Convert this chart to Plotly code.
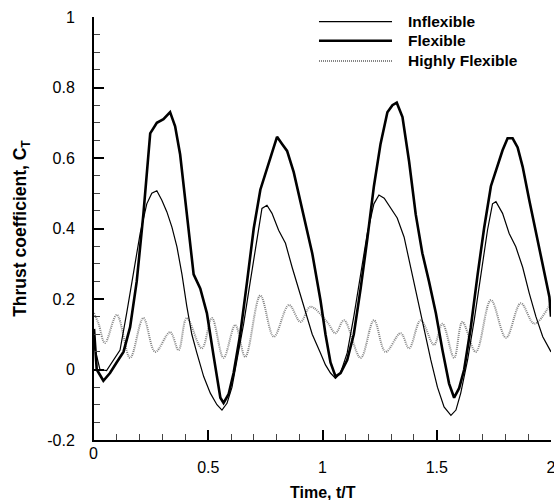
import plotly.graph_objects as go

# ---- data ----
t_flex = [0, 0.012, 0.041, 0.070, 0.099, 0.129, 0.158, 0.187, 0.216, 0.246, 0.275, 0.304, 0.333, 0.355,
          0.377, 0.406, 0.436, 0.465, 0.494, 0.523, 0.553, 0.567, 0.589, 0.611, 0.640, 0.670, 0.699, 0.728,
          0.757, 0.779, 0.801, 0.823, 0.845, 0.874, 0.918, 0.955, 0.991, 1.013, 1.035, 1.057, 1.079, 1.108,
          1.137, 1.167, 1.196, 1.225, 1.254, 1.284, 1.306, 1.325, 1.35, 1.379, 1.408, 1.437, 1.466, 1.496,
          1.525, 1.554, 1.576, 1.598, 1.62, 1.649, 1.679, 1.707, 1.737, 1.766, 1.788, 1.81, 1.832, 1.854,
          1.876, 1.905, 1.934, 1.964, 1.993, 2.0]
ct_flex = [0.115, 0.0, -0.032, -0.01, 0.02, 0.05, 0.12, 0.25, 0.44, 0.67, 0.70, 0.71, 0.73, 0.69,
           0.61, 0.45, 0.27, 0.23, 0.16, 0.04, -0.08, -0.095, -0.07, -0.01, 0.10, 0.25, 0.40, 0.51,
           0.57, 0.62, 0.66, 0.64, 0.62, 0.56, 0.44, 0.33, 0.197, 0.10, 0.02, -0.02, -0.01, 0.027,
           0.10, 0.23, 0.37, 0.52, 0.64, 0.73, 0.75, 0.757, 0.716, 0.59, 0.44, 0.33, 0.25, 0.16,
           0.055, -0.04, -0.08, -0.053, 0.0, 0.12, 0.27, 0.40, 0.52, 0.575, 0.622, 0.656, 0.656, 0.63,
           0.575, 0.48, 0.387, 0.29, 0.206, 0.15]

t_infl = [0, 0.026, 0.055, 0.085, 0.114, 0.143, 0.172, 0.202, 0.231, 0.253, 0.275, 0.297, 0.319, 0.341,
          0.363, 0.385, 0.406, 0.428, 0.45, 0.48, 0.509, 0.538, 0.56, 0.582, 0.604, 0.626, 0.655, 0.684,
          0.714, 0.735, 0.757, 0.779, 0.808, 0.838, 0.867, 0.896, 0.925, 0.955, 0.991, 1.013, 1.035, 1.057,
          1.079, 1.108, 1.137, 1.167, 1.196, 1.225, 1.247, 1.27, 1.298, 1.327, 1.357, 1.386, 1.415, 1.445,
          1.474, 1.503, 1.532, 1.562, 1.584, 1.605, 1.635, 1.664, 1.693, 1.722, 1.744, 1.759, 1.788, 1.817,
          1.846, 1.876, 1.905, 1.934, 1.964, 2.0]
ct_infl = [0.07, 0.0, -0.003, 0.027, 0.055, 0.16, 0.27, 0.386, 0.47, 0.50, 0.507, 0.48, 0.447, 0.404,
           0.348, 0.27, 0.18, 0.10, 0.047, -0.02, -0.067, -0.10, -0.115, -0.096, -0.05, 0.027, 0.13, 0.25,
           0.376, 0.457, 0.466, 0.443, 0.395, 0.358, 0.29, 0.225, 0.16, 0.10, 0.047, 0.013, -0.01, -0.025,
           -0.01, 0.047, 0.15, 0.27, 0.386, 0.47, 0.495, 0.486, 0.46, 0.43, 0.376, 0.29, 0.197, 0.11,
           0.027, -0.05, -0.106, -0.13, -0.115, -0.067, 0.027, 0.14, 0.27, 0.395, 0.47, 0.476, 0.443, 0.386,
           0.348, 0.29, 0.216, 0.15, 0.093, 0.05]

t_hflex = [0, 0.02, 0.048, 0.10, 0.158, 0.216, 0.268, 0.333, 0.37, 0.406, 0.472, 0.516, 0.567, 0.618,
           0.662, 0.728, 0.787, 0.853, 0.904, 0.947, 1.02, 1.057, 1.094, 1.167, 1.225, 1.276, 1.342, 1.379,
           1.43, 1.488, 1.525, 1.576, 1.612, 1.671, 1.737, 1.803, 1.868, 1.927, 2.0]
ct_hflex = [0.16, 0.13, 0.075, 0.155, 0.033, 0.146, 0.05, 0.106, 0.055, 0.146, 0.06, 0.146, 0.033, 0.126,
            0.036, 0.21, 0.093, 0.183, 0.135, 0.178, 0.135, 0.103, 0.14, 0.033, 0.14, 0.05, 0.103, 0.06,
            0.14, 0.07, 0.13, 0.033, 0.135, 0.05, 0.197, 0.09, 0.188, 0.13, 0.19]

x_ticks = [0.5, 1, 1.5, 2]
x_ticklabels = ["0.5", "1", "1.5", "2"]
x_origin_label = "0"
y_ticks = [-0.2, 0, 0.2, 0.4, 0.6, 0.8, 1]
y_ticklabels = ["-0.2", "0", "0.2", "0.4", "0.6", "0.8", "1"]

series_names = ["Inflexible", "Flexible", "Highly Flexible"]

FONT = "Arial, Liberation Sans, Helvetica, sans-serif"

fig = go.Figure()
fig.add_trace(go.Scatter(x=t_hflex, y=ct_hflex, mode="lines", name=series_names[2], showlegend=False,
                         line=dict(color="#858585", width=2, dash="1px,1px", shape="spline", smoothing=1.0)))
fig.add_trace(go.Scatter(x=t_infl, y=ct_infl, mode="lines", name=series_names[0], showlegend=False,
                         line=dict(color="black", width=1.2)))
fig.add_trace(go.Scatter(x=t_flex, y=ct_flex, mode="lines", name=series_names[1], showlegend=False,
                         line=dict(color="black", width=2.6)))

axis_common = dict(showline=True, linecolor="black", linewidth=2, showgrid=False, zeroline=False,
                   ticks="inside", ticklen=10, tickwidth=2, tickcolor="black",
                   ticklabeloverflow="allow", automargin=False,
                   tickfont=dict(family=FONT, size=16, color="black"))

fig.update_xaxes(range=[0, 2], tickvals=x_ticks, ticktext=x_ticklabels, ticklabelstandoff=12,
                 minor=dict(dtick=0.1, ticks="inside", ticklen=6, tickwidth=1, tickcolor="#444"),
                 **axis_common)
fig.update_yaxes(range=[-0.2, 1], tickvals=y_ticks, ticktext=y_ticklabels, ticklabelstandoff=14,
                 minor=dict(dtick=0.05, ticks="inside", ticklen=6, tickwidth=1, tickcolor="#444"),
                 title=dict(text="<b>Thrust coefficient, C<sub>T</sub></b>", standoff=16,
                            font=dict(family=FONT, size=17.5, color="black")),
                 **axis_common)

# "0" label of the x axis (sits higher in the original)
fig.add_annotation(x=0, y=0, xref="x", yref="paper", text=x_origin_label, showarrow=False,
                   xanchor="center", yanchor="top", yshift=-3, xshift=-1,
                   font=dict(family=FONT, size=16, color="black"))

# x axis title
fig.add_annotation(x=0.5, y=0, xref="paper", yref="paper", text="<b>Time, t/T</b>", showarrow=False,
                   xanchor="center", yanchor="middle", yshift=-52,
                   font=dict(family=FONT, size=16, color="black"))

# legend drawn manually (long line samples as in the original)
leg_rows = [0.9889, 0.944, 0.896]
leg_styles = [dict(color="black", width=1.2), dict(color="black", width=2.6),
              dict(color="#858585", width=2, dash="1px,1px")]
for name, yy, st in zip(series_names, leg_rows, leg_styles):
    fig.add_shape(type="line", xref="paper", yref="paper", x0=0.4923, x1=0.6521, y0=yy, y1=yy, line=st)
    fig.add_annotation(x=0.6827, y=yy, xref="paper", yref="paper", text="<b>%s</b>" % name,
                       showarrow=False, xanchor="left", yanchor="middle",
                       font=dict(family=FONT, size=15.5, color="black"))

fig.update_layout(width=554, height=500, margin=dict(l=94, r=3, t=17, b=60, autoexpand=False),
                  plot_bgcolor="white", paper_bgcolor="white", showlegend=False,
                  font=dict(family=FONT, size=16, color="black"))

fig.write_html("out.html")
